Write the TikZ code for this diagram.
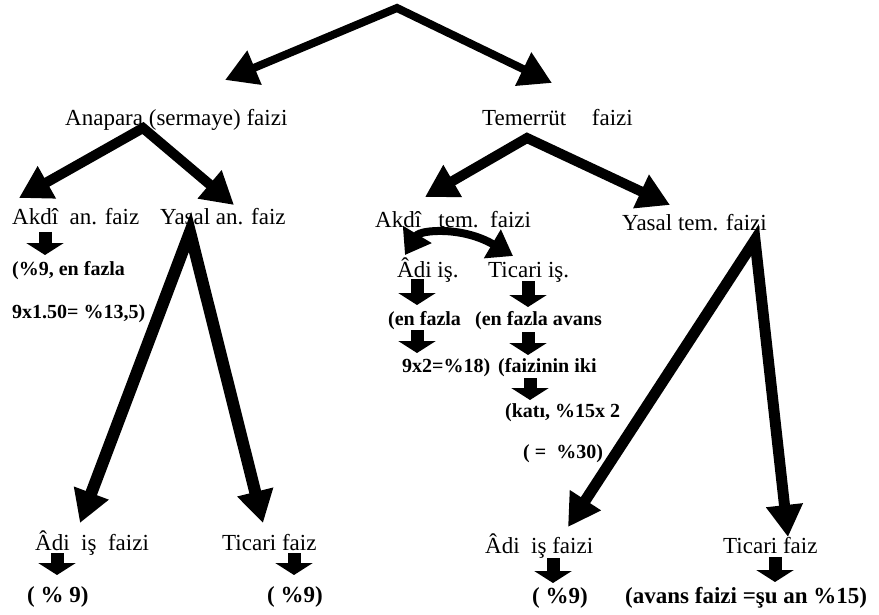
\documentclass[tikz,border=0pt]{standalone}
\usepackage{fontspec}
\setmainfont{Liberation Serif}
\usetikzlibrary{arrows.meta}
\begin{document}
\begin{tikzpicture}[x=1pt,y=-1pt,
  lbl/.style={inner sep=0pt, anchor=base west, font=\fontsize{23}{26}\selectfont},
  blbl/.style={inner sep=0pt, anchor=base west, font=\bfseries\fontsize{20}{24}\selectfont},
  bblbl/.style={inner sep=0pt, anchor=base west, font=\bfseries\fontsize{23}{26}\selectfont},
  varrow/.style={line join=miter, miter limit=20,
     {Triangle[length=32pt,width=35pt]}-{Triangle[length=32pt,width=35pt]}},
  fatdown/.style={line width=13pt, -{Triangle[length=12pt,width=37pt]}},
  curvearrow/.style={line width=8pt,
     {Triangle[length=24pt,width=32pt]}-{Triangle[length=24pt,width=32pt]}}
]
\useasboundingbox (0,0) rectangle (879,615);

% ---------- text nodes ----------
\node[lbl] (anapara)  at (65,126)  {Anapara (sermaye) faizi};
\node[lbl] (temerrut) at (482,126) {Temerrüt\hspace{20pt} faizi};
\node[lbl] (akdian)   at (12,225)  {Akdî\ \ an. faiz};
\node[lbl] (yasalan)  at (160,225) {Yasal an. faiz};
\node[lbl] (akditem)  at (375,228) {Akdî\ \ \ tem.\ \ faizi};
\node[lbl] (yasaltem) at (622,230) {Yasal tem. faizi};
\node[lbl] (adiis)    at (397,277) {Âdi iş.};
\node[lbl] (ticariis) at (488,277) {Ticari iş.};
\node[lbl] (adifaizA) at (35,550)  {Âdi\ \ iş\ \ faizi};
\node[lbl] (ticfaizA) at (222,550) {Ticari faiz};
\node[lbl] (adifaizB) at (485,553) {Âdi\ \ iş faizi};
\node[lbl] (ticfaizB) at (723,553) {Ticari faiz};

\node[blbl] (pA) at (12,275)  {(\%9, en fazla};
\node[blbl] (pB) at (12,318)  {9x1.50= \%13,5)};
\node[blbl] (pC) at (388,325) {(en fazla};
\node[blbl] (pD) at (475,325) {(en fazla avans};
\node[blbl] (pE) at (402,372) {9x2=\%18)};
\node[blbl] (pF) at (498,372) {(faizinin iki};
\node[blbl] (pG) at (505,417) {(katı, \%15x 2};
\node[blbl] (pH) at (523,458) {(\ =\ \ \%30)};
\node[bblbl] (pI) at (27,602)  {( \% 9)};
\node[bblbl] (pJ) at (267,602) {( \%9)};
\node[bblbl] (pK) at (532,603) {( \%9)};
\node[bblbl] (pL) at (625,603) {(avans faizi =şu an \%15)};

% ---------- big V arrows ----------
\coordinate (top) at (397,8);
\coordinate (topL) at (225,80);
\coordinate (topR) at (552,83);
\draw[varrow, line width=8pt] (topL) -- (top) -- (topR);

\coordinate (anaA) at (143,128);
\coordinate (anaL) at (19,198);
\coordinate (anaR) at (234,205);
\draw[varrow, line width=10pt] (anaL) -- (anaA) -- (anaR);

\coordinate (temA) at (527,138);
\coordinate (temL) at (425,197);
\coordinate (temR) at (670,205);
\draw[varrow, line width=10pt] (temL) -- (temA) -- (temR);

\coordinate (yanA) at (190,232);
\coordinate (yanL) at (80,523);
\coordinate (yanR) at (263,523);
\draw[varrow, line width=12pt] (yanL) -- (yanA) -- (yanR);

\coordinate (ytA) at (755,240);
\coordinate (ytL) at (568,527);
\coordinate (ytR) at (788,537);
\draw[varrow, line width=11pt] (ytL) -- (ytA) -- (ytR);

% ---------- curved double arrow ----------
\coordinate (cvL) at (405,255);
\coordinate (cvR) at (513,256);
\draw[curvearrow] (cvL) .. controls (420,230) and (462,226) .. (cvR);

% ---------- small fat down arrows ----------
\coordinate (s1t) at (45,232);  \coordinate (s1b) at (45,255);
\coordinate (s2t) at (417,279); \coordinate (s2b) at (417,305);
\coordinate (s3t) at (528,281); \coordinate (s3b) at (528,307);
\coordinate (s4t) at (417,330); \coordinate (s4b) at (417,353);
\coordinate (s5t) at (528,332); \coordinate (s5b) at (528,355);
\coordinate (s6t) at (530,378); \coordinate (s6b) at (530,400);
\coordinate (s7t) at (57,553);  \coordinate (s7b) at (57,575);
\coordinate (s8t) at (294,553); \coordinate (s8b) at (294,575);
\coordinate (s9t) at (553,558); \coordinate (s9b) at (553,583);
\coordinate (s10t) at (775,557); \coordinate (s10b) at (775,582);
\foreach \i in {1,...,10} {\draw[fatdown] (s\i t) -- (s\i b);}
\end{tikzpicture}
\end{document}
